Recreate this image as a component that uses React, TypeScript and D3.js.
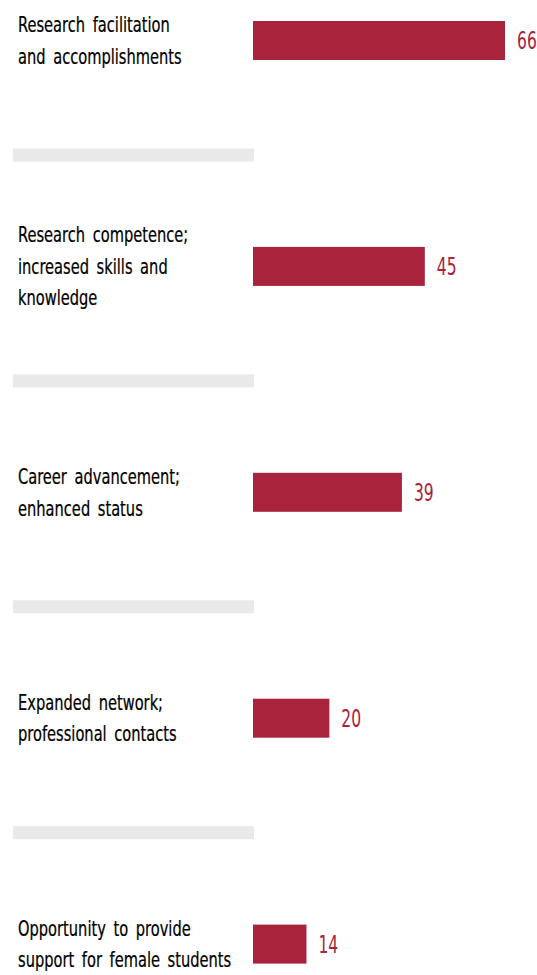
import { useEffect, useRef } from "react";
import * as d3 from "d3";

// outcome categories (label lines) and share of respondents
const labels: string[][] = [
  ["Research facilitation", "and accomplishments"],
  ["Research competence;", "increased skills and", "knowledge"],
  ["Career advancement;", "enhanced status"],
  ["Expanded network;", "professional contacts"],
  ["Opportunity to provide", "support for female students"],
];
const values = [66, 45, 39, 20, 14];

const App = () => {
  const ref = useRef<SVGSVGElement | null>(null);

  useEffect(() => {
    document.body.style.margin = "0";
    if (!ref.current) return;
    const svg = d3.select(ref.current);
    svg.selectAll("*").remove();

    const width = 537;
    const height = 975;
    const barLeft = 253;
    const barH = 39;
    const lineH = 31.5;
    const red = "#a8233b";
    const font = "'DejaVu Sans Condensed', 'DejaVu Sans', sans-serif";

    const idx = values.map((_, i) => i);
    const y = d3.scalePoint<number>().domain(idx).range([40.5, 944.1]);
    const x = d3
      .scaleLinear()
      .domain([0, d3.max(values)!])
      .range([barLeft, barLeft + 252]);

    svg.attr("width", width).attr("height", height);

    // grey separators under each group
    svg
      .append("g")
      .selectAll("rect")
      .data(idx.slice(0, -1))
      .join("rect")
      .attr("x", 13)
      .attr("y", (i) => y(i)! + barH / 2 + 88.5)
      .attr("width", 241)
      .attr("height", 13)
      .attr("fill", "#e9e9e9");

    // bars
    svg
      .append("g")
      .selectAll("rect")
      .data(idx)
      .join("rect")
      .attr("x", x(0))
      .attr("y", (i) => y(i)! - barH / 2)
      .attr("width", (i) => x(values[i]) - x(0))
      .attr("height", barH)
      .attr("fill", red);

    // values (condensed look)
    svg
      .append("g")
      .selectAll("text")
      .data(idx)
      .join("text")
      .attr("transform", (i) => `translate(${x(values[i]) + 12},${y(i)}) scale(0.72,1)`)
      .attr("dy", "0.36em")
      .attr("fill", red)
      .style("font-family", font)
      .style("font-size", "24px")
      .text((i) => values[i]);

    // category labels
    const lab = svg
      .append("g")
      .selectAll("text")
      .data(idx)
      .join("text")
      .attr("transform", (i) => `translate(18,${y(i)}) scale(0.74,1)`)
      .attr("fill", "#000")
      .attr("stroke", "#000")
      .attr("stroke-width", 0.25)
      .style("font-family", font)
      .style("font-size", "22px")
      .style("word-spacing", "4px");

    lab
      .selectAll("tspan")
      .data((i) => labels[i].map((t, j) => ({ t, j, n: labels[i].length })))
      .join("tspan")
      .attr("x", 0)
      .attr("dy", (d) => (d.j === 0 ? -((d.n - 1) / 2) * lineH + 7.5 : lineH))
      .text((d) => d.t);
  }, []);

  return <svg ref={ref} style={{ display: "block" }}></svg>;
};

export default App;
